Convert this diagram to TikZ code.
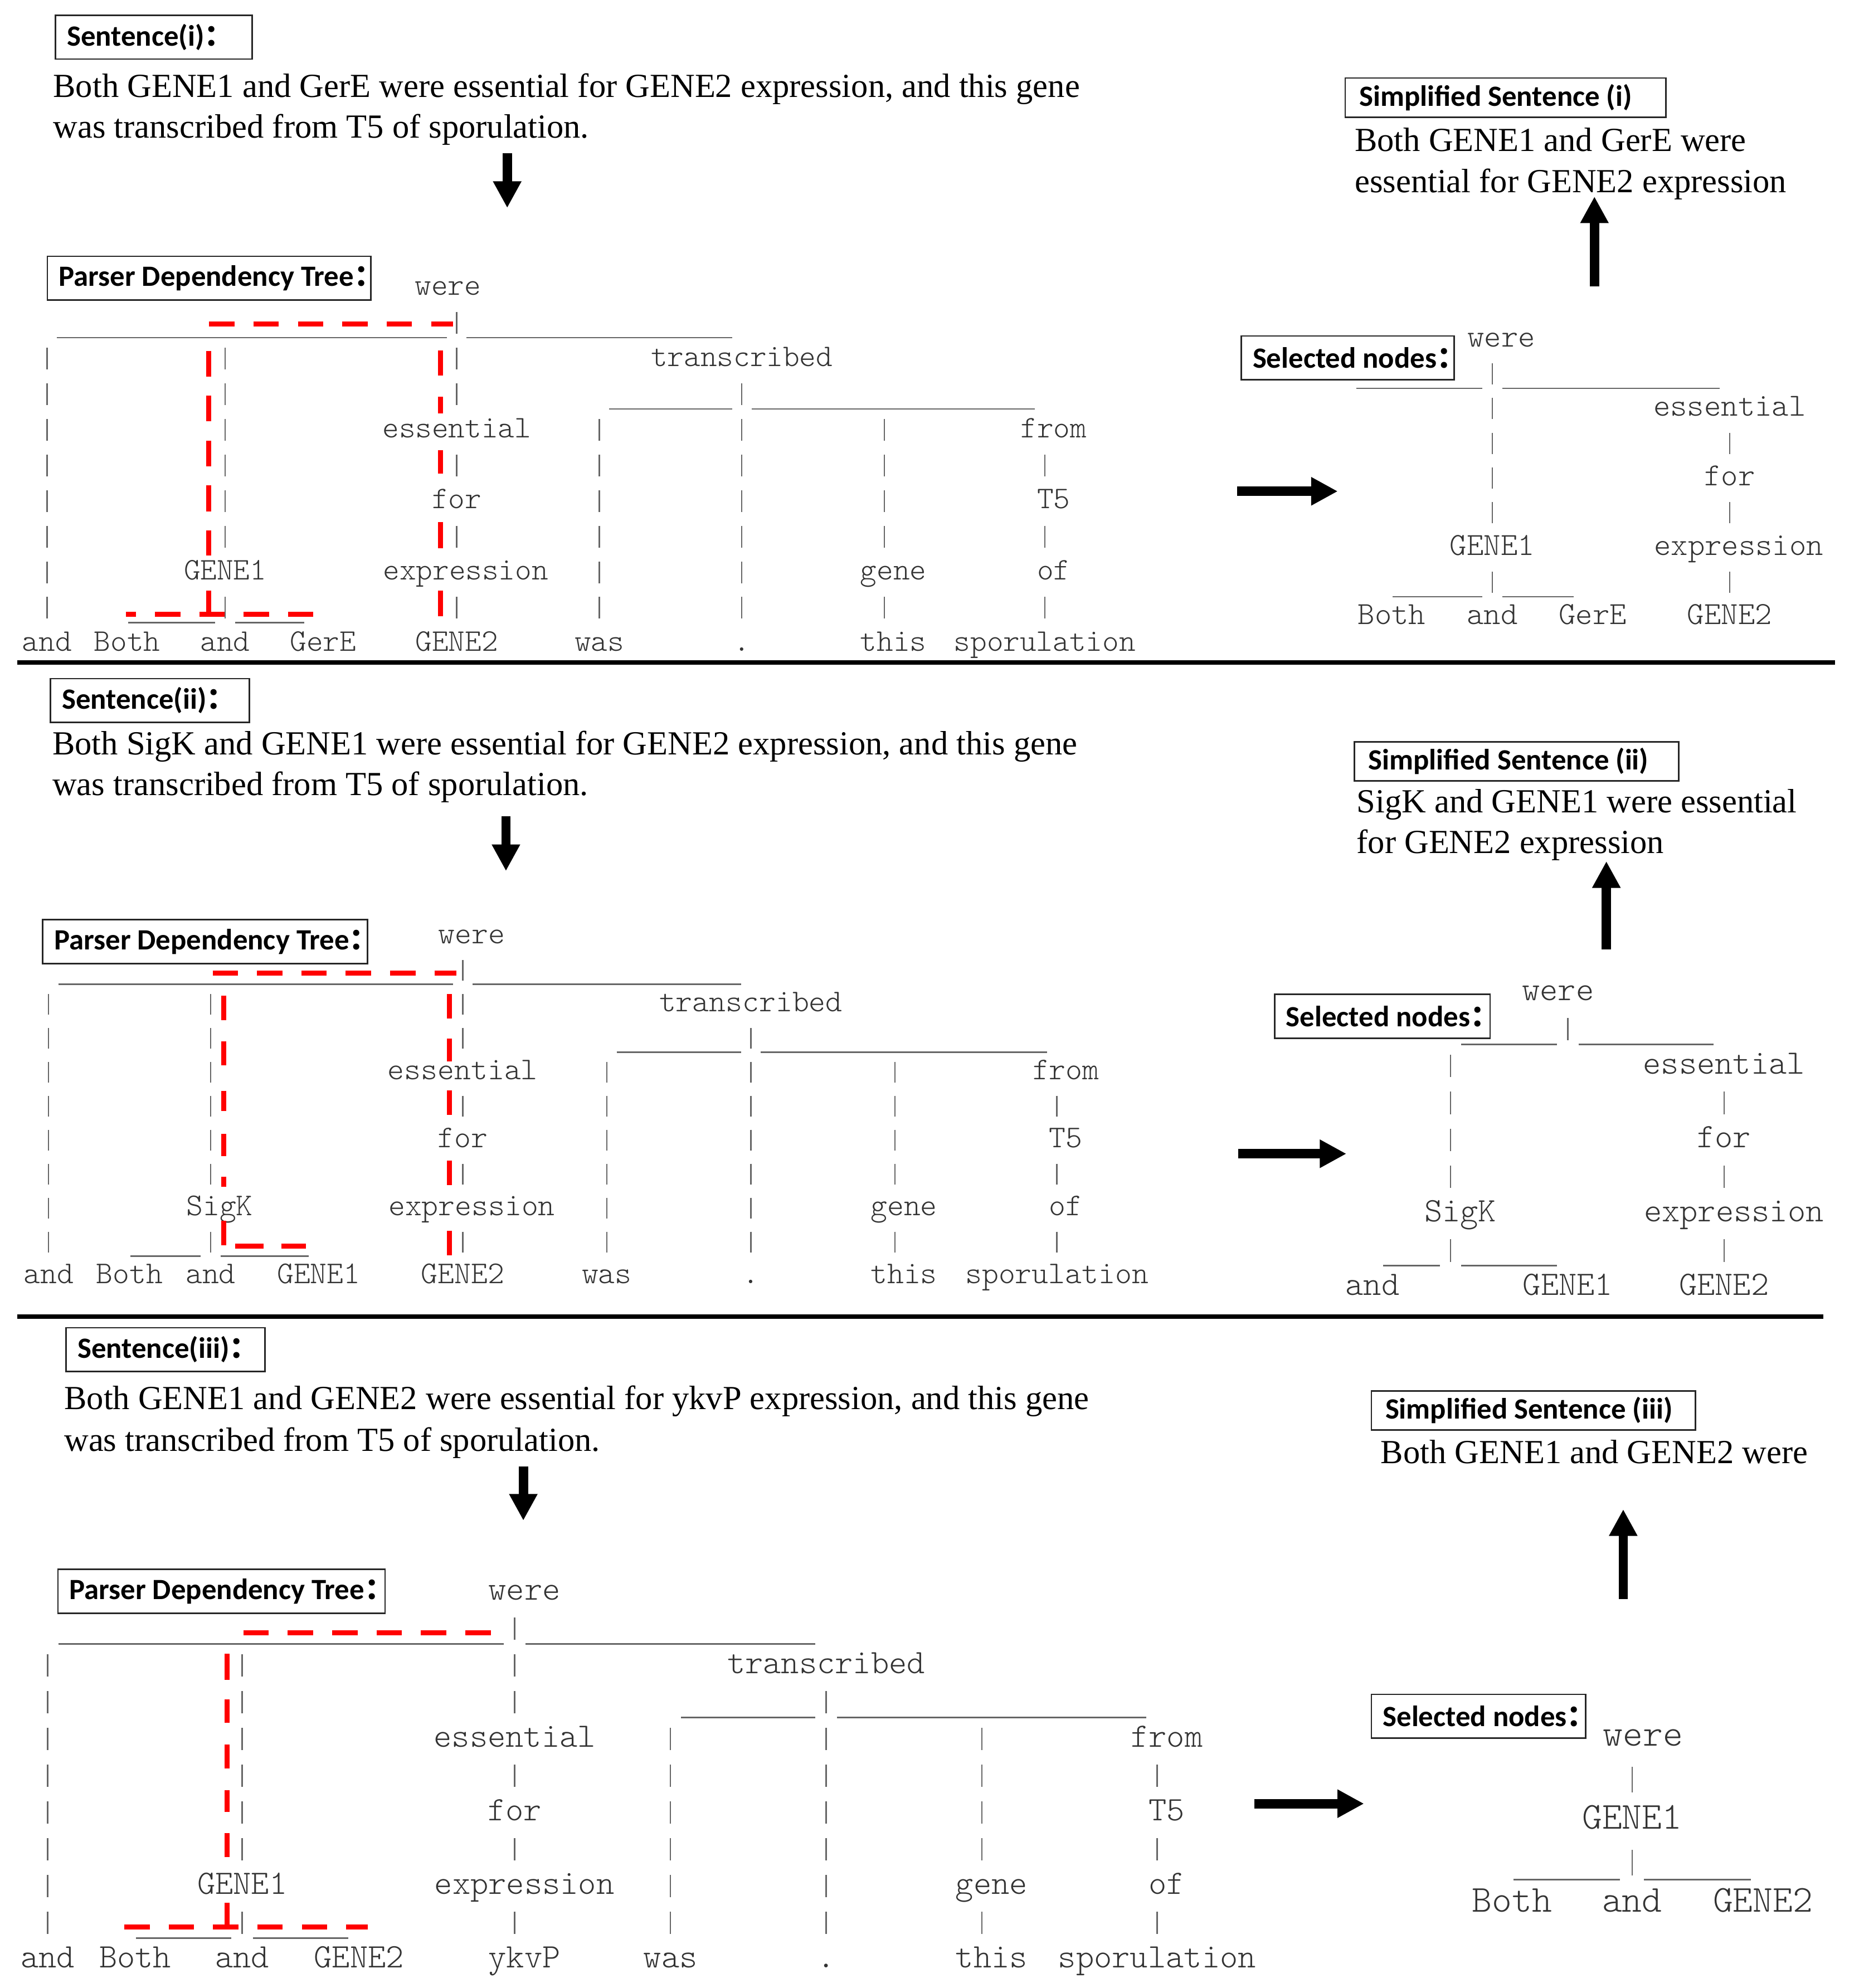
\documentclass[tikz,border=0pt]{standalone}
\usepackage{fontspec}
\setmainfont{Liberation Serif}
\newfontfamily\labelfam{Carlito}
\newfontfamily\cjk{Noto Sans CJK SC}
\newfontfamily\treefam{lmmonolt10-regular.otf}
\usepackage{tikz}
\usetikzlibrary{arrows.meta}

\newcommand{\fwc}{{\cjk ：}}
\newcommand{\lbltxt}[2]{\makebox[#1][l]{#2}}
\newcommand{\tsize}[1]{\treefam\fontsize{#1}{#1}\selectfont}
% one "|" per row, in tree grid units
\newcommand{\bars}[2]{\foreach \rr in {#2} \draw[vbar] (#1+0.5,\rr-0.25) -- ++(0,0.61);}
% a run of "_" from column #1 up to column #2, under row #3
\newcommand{\busline}[3]{\draw[bus] (#1+0.05,#3+0.47) -- (#2-0.05,#3+0.47);}
% red marks down column #1, one piece per from/to pair
\newcommand{\picks}[2]{\foreach \aa/\bb in {#2} \draw[pickseg] (#1,\aa) -- (#1,\bb);}

\tikzset{
  word/.style={font=\tsize{12.4}, text=black!80, inner sep=0pt, anchor=base},
  vbar/.style={draw=black!60, line width=0.55pt},
  bus/.style={draw=black!60, line width=0.6pt},
  pickseg/.style={draw=red, line width=2pt},
  pick/.style={pickseg, dash pattern=on 10pt off 7.5pt},
  lbl/.style={draw=black!85, line width=0.6pt, anchor=north west, inner xsep=4.5pt,
    inner ysep=0pt, minimum height=17.3pt, font=\labelfam\bfseries\fontsize{11.6}{13}\selectfont},
  sent/.style={anchor=base west, inner sep=0pt, font=\fontsize{13.3}{16}\selectfont},
  bigarrow/.style={line width=3.7pt, -{Triangle[length=10.5pt,width=10.5pt]}},
  sep/.style={line width=1.8pt},
}

\begin{document}
\begin{tikzpicture}[x=0.5pt, y=-0.5pt]

\fill[white] (0,0) rectangle (1466,1568);
\useasboundingbox (0,0) rectangle (1466,1568);

% ---------------- Sentence (i) ----------------
\node[lbl] (sen1) at (43.2,11.4) {\lbltxt{68.5pt}{Sentence(i)\fwc}};
\node[sent] (sen1a) at (41.6,76.5) {Both GENE1 and GerE were essential for GENE2 expression, and this gene};
\node[sent] (sen1b) at (41.6,108.9) {was transcribed from T5 of sporulation.};
\node[lbl] (pdt1) at (36.7,201.5) {\lbltxt{118.5pt}{Parser Dependency Tree\fwc}};

% parser tree (i)
\begin{scope}[shift={(16,225)}, x=7.025pt, y=-14.05pt, word/.append style={font=\tsize{12.4}}]
\node[word] (t1were) at (24,0.27) {were};
\node[word] (t1trans) at (40.5,2.27) {transcribed};
\node[word] (t1ess) at (24.5,4.27) {essential};
\node[word] (t1from) at (58,4.27) {from};
\node[word] (t1for) at (24.5,6.27) {for};
\node[word] (t1tf) at (58,6.27) {T5};
\node[word] (t1gena) at (11.5,8.27) {GENE1};
\node[word] (t1expr) at (25,8.27) {expression};
\node[word] (t1gene) at (49,8.27) {gene};
\node[word] (t1of) at (58,8.27) {of};
\foreach \nm/\xc/\lab in {and/1.5/and, both/6/Both, andb/11.5/and, gere/17/GerE, genb/24.5/GENE2,
    was/32.5/was, dot/40.5/., this/49/this, spor/57.5/sporulation}
  \node[word] (t1\nm) at (\xc,10.27) {\lab};
% bars
\bars{1}{2,...,9}
\bars{11}{2,...,7} \bars{11}{9}
\bars{24}{1,2,3,5,7,9}
\bars{32}{4,...,9}
\bars{40}{3,...,9}
\bars{48}{4,...,7} \bars{48}{9}
\bars{57}{5,7,9}
% underscores
\busline{2}{24}{1} \busline{25}{40}{1}
\busline{33}{40}{3} \busline{41}{57}{3}
\busline{6}{11}{9} \busline{12}{16}{9}
% selected path
\draw[pick] (10.6,1.09) -- (24.3,1.09);
\picks{10.58}{1.84/2.57, 3.10/3.82, 4.36/5.08, 5.61/6.35, 6.88/7.58, 8.57/9.31}
\picks{23.58}{1.83/2.53, 3.13/3.60, 4.63/5.28, 6.65/7.38, 8.57/9.29}
\draw[pick, dash phase=6pt] (5.92,9.23) -- (16.48,9.23);
\end{scope}

\node[lbl, inner xsep=5.5pt, minimum height=15.5pt] (simp1) at (1060.3,60.9) {\lbltxt{115.45pt}{Simplified Sentence (i)}};
\node[sent] (simp1a) at (1068,119.5) {Both GENE1 and GerE were};
\node[sent] (simp1b) at (1068,151.9) {essential for GENE2 expression};
\node[lbl] (sel1) at (978.3,264.4) {\lbltxt{74.85pt}{Selected nodes\fwc}};

% selected tree (i)
\begin{scope}[shift={(1068.8,266)}, x=7.2pt, y=-13.7pt, word/.append style={font=\tsize{12.7}}]
\node[word] (r1were) at (8,0.27) {were};
\node[word] (r1ess) at (20.5,2.27) {essential};
\node[word] (r1for) at (20.5,4.27) {for};
\node[word] (r1gena) at (7.5,6.27) {GENE1};
\node[word] (r1expr) at (21,6.27) {expression};
\node[word] (r1both) at (2,8.27) {Both};
\node[word] (r1and) at (7.5,8.27) {and};
\node[word] (r1gere) at (13,8.27) {GerE};
\node[word] (r1genb) at (20.5,8.27) {GENE2};
\bars{7}{1,...,5} \bars{7}{7}
\bars{20}{3,5,7}
\busline{0}{7}{1} \busline{8}{20}{1}
\busline{2}{7}{7} \busline{8}{12}{7}
\end{scope}

% arrows (i)
\coordinate (d1a) at (400,121); \coordinate (d1b) at (400,164);
\draw[bigarrow] (d1a) -- (d1b);
\coordinate (h1a) at (975.7,387.5); \coordinate (h1b) at (1055,387.5);
\draw[bigarrow] (h1a) -- (h1b);
\coordinate (u1a) at (1257.4,226); \coordinate (u1b) at (1257.4,155);
\draw[bigarrow] (u1a) -- (u1b);

\draw[sep] (13.5,522.5) -- (1447,522.5);

% ---------------- Sentence (ii) ----------------
\node[lbl] (sen2) at (39.2,534.6) {\lbltxt{69.35pt}{Sentence(ii)\fwc}};
\node[sent] (sen2a) at (41,595.2) {Both SigK and GENE1 were essential for GENE2 expression, and this gene};
\node[sent] (sen2b) at (41,627.4) {was transcribed from T5 of sporulation.};
\node[lbl] (pdt2) at (33.1,724.8) {\lbltxt{119.1pt}{Parser Dependency Tree\fwc}};

% parser tree (ii)
\begin{scope}[shift={(17,737)}, x=7.1pt, y=-13.4pt, word/.append style={font=\tsize{12.5}}]
\node[word] (t2were) at (25,0.27) {were};
\node[word] (t2trans) at (40.5,2.27) {transcribed};
\node[word] (t2ess) at (24.5,4.27) {essential};
\node[word] (t2from) at (58,4.27) {from};
\node[word] (t2for) at (24.5,6.27) {for};
\node[word] (t2tf) at (58,6.27) {T5};
\node[word] (t2sigk) at (11,8.27) {SigK};
\node[word] (t2expr) at (25,8.27) {expression};
\node[word] (t2gene) at (49,8.27) {gene};
\node[word] (t2of) at (58,8.27) {of};
\foreach \nm/\xc/\lab in {and/1.5/and, both/6/Both, andb/10.5/and, gena/16.5/GENE1, genb/24.5/GENE2,
    was/32.5/was, dot/40.5/., this/49/this, spor/57.5/sporulation}
  \node[word] (t2\nm) at (\xc,10.27) {\lab};
\bars{1}{2,...,9}
\bars{10}{2,...,7} \bars{10}{9}
\bars{24}{1,2,3,5,7,9}
\bars{32}{4,...,9}
\bars{40}{3,...,9}
\bars{48}{4,...,7} \bars{48}{9}
\bars{57}{5,7,9}
\busline{2}{24}{1} \busline{25}{40}{1}
\busline{33}{40}{3} \busline{41}{57}{3}
\busline{6}{10}{9} \busline{11}{16}{9}
\draw[pick] (10.61,1.14) -- (24.14,1.14);
\picks{11.24}{1.81/2.53, 3.14/3.86, 4.60/5.20, 5.87/6.53, 7.13/7.43, 8.43/9.15}
\picks{23.76}{1.75/2.47, 3.07/3.73, 4.59/5.31, 6.66/7.37, 8.72/9.44}
\draw[pickseg] (11.87,9.18) -- (13.44,9.18);
\draw[pickseg] (14.42,9.18) -- (15.78,9.18);
\end{scope}

\node[lbl, inner xsep=5.5pt, minimum height=15.5pt] (simp2) at (1067.6,584.4) {\lbltxt{116.9pt}{Simplified Sentence (ii)}};
\node[sent] (simp2a) at (1069.5,640.8) {SigK and GENE1 were essential};
\node[sent] (simp2b) at (1069.5,673.2) {for GENE2 expression};
\node[lbl] (sel2) at (1004.6,783.6) {\lbltxt{75.95pt}{Selected nodes\fwc}};

% selected tree (ii)
\begin{scope}[shift={(1059.3,781)}, x=7.7pt, y=-14.55pt, word/.append style={font=\tsize{13.5}}]
\node[word] (r2were) at (11,0.27) {were};
\node[word] (r2ess) at (19.5,2.27) {essential};
\node[word] (r2for) at (19.5,4.27) {for};
\node[word] (r2sigk) at (6,6.27) {SigK};
\node[word] (r2expr) at (20,6.27) {expression};
\node[word] (r2and) at (1.5,8.27) {and};
\node[word] (r2gena) at (11.5,8.27) {GENE1};
\node[word] (r2genb) at (19.5,8.27) {GENE2};
\bars{11}{1}
\bars{5}{2,...,5} \bars{5}{7}
\bars{19}{3,5,7}
\busline{6}{11}{1} \busline{12}{19}{1}
\busline{2}{5}{7} \busline{6}{11}{7}
\end{scope}

% arrows (ii)
\coordinate (d2a) at (399,644); \coordinate (d2b) at (399,687);
\draw[bigarrow] (d2a) -- (d2b);
\coordinate (h2a) at (976.6,910); \coordinate (h2b) at (1061.8,910);
\draw[bigarrow] (h2a) -- (h2b);
\coordinate (u2a) at (1266.8,748.7); \coordinate (u2b) at (1266.8,679.3);
\draw[bigarrow] (u2a) -- (u2b);

\draw[sep] (13.5,1038.6) -- (1438,1038.6);

% ---------------- Sentence (iii) ----------------
\node[lbl] (sen3) at (51.6,1046.6) {\lbltxt{69.35pt}{Sentence(iii)\fwc}};
\node[sent] (sen3a) at (50.3,1111.5) {Both GENE1 and GENE2 were essential for ykvP expression, and this gene};
\node[sent] (sen3b) at (50.3,1144.5) {was transcribed from T5 of sporulation.};
\node[lbl] (pdt3) at (45.1,1237.1) {\lbltxt{120pt}{Parser Dependency Tree\fwc}};

% parser tree (iii)
\begin{scope}[shift={(14.5,1254)}, x=7.675pt, y=-14.5pt, word/.append style={font=\tsize{13.5}}]
\node[word] (t3were) at (26,0.27) {were};
\node[word] (t3trans) at (41.5,2.27) {transcribed};
\node[word] (t3ess) at (25.5,4.27) {essential};
\node[word] (t3from) at (59,4.27) {from};
\node[word] (t3for) at (25.5,6.27) {for};
\node[word] (t3tf) at (59,6.27) {T5};
\node[word] (t3gena) at (11.5,8.27) {GENE1};
\node[word] (t3expr) at (26,8.27) {expression};
\node[word] (t3gene) at (50,8.27) {gene};
\node[word] (t3of) at (59,8.27) {of};
\foreach \nm/\xc/\lab in {and/1.5/and, both/6/Both, andb/11.5/and, genb/17.5/GENE2, ykvp/26/ykvP,
    was/33.5/was, dot/41.5/., this/50/this, spor/58.5/sporulation}
  \node[word] (t3\nm) at (\xc,10.27) {\lab};
\bars{1}{2,...,9}
\bars{11}{2,...,7} \bars{11}{9}
\bars{25}{1,2,3,5,7,9}
\bars{33}{4,...,9}
\bars{41}{3,...,9}
\bars{49}{4,...,7} \bars{49}{9}
\bars{58}{5,7,9}
\busline{2}{25}{1} \busline{26}{41}{1}
\busline{34}{41}{3} \busline{42}{58}{3}
\busline{6}{11}{9} \busline{12}{17}{9}
\draw[pick] (11.56,1.16) -- (24.33,1.16);
\picks{10.72}{1.74/2.44, 2.98/3.62, 4.21/4.86, 5.45/6.04, 6.62/7.27, 8.51/9.17}
\draw[pick] (5.44,9.17) -- (17.95,9.17);
\end{scope}

\node[lbl, inner xsep=5.5pt, minimum height=15.5pt] (simp3) at (1080.9,1096.4) {\lbltxt{116.75pt}{Simplified Sentence (iii)}};
\node[sent] (simp3a) at (1088.5,1154.3) {Both GENE1 and GENE2 were};
\node[lbl] (sel3) at (1080.9,1335.8) {\lbltxt{75.55pt}{Selected nodes\fwc}};

% selected tree (iii)
\begin{scope}[shift={(1158.1,1369)}, x=8.6pt, y=-16.375pt, word/.append style={font=\tsize{15}}]
\node[word] (r3were) at (8,0.25) {were};
\node[word] (r3gena) at (7.5,2.25) {GENE1};
\node[word] (r3both) at (2,4.25) {Both};
\node[word] (r3and) at (7.5,4.25) {and};
\node[word] (r3genb) at (13.5,4.25) {GENE2};
\bars{7}{1,3}
\busline{2}{7}{3} \busline{8}{13}{3}
\end{scope}

% arrows (iii)
\coordinate (d3a) at (412.7,1156.6); \coordinate (d3b) at (412.7,1199.3);
\draw[bigarrow] (d3a) -- (d3b);
\coordinate (h3a) at (989,1422.6); \coordinate (h3b) at (1075.7,1422.6);
\draw[bigarrow] (h3a) -- (h3b);
\coordinate (u3a) at (1280.1,1261.2); \coordinate (u3b) at (1280.1,1190.4);
\draw[bigarrow] (u3a) -- (u3b);

\end{tikzpicture}
\end{document}
